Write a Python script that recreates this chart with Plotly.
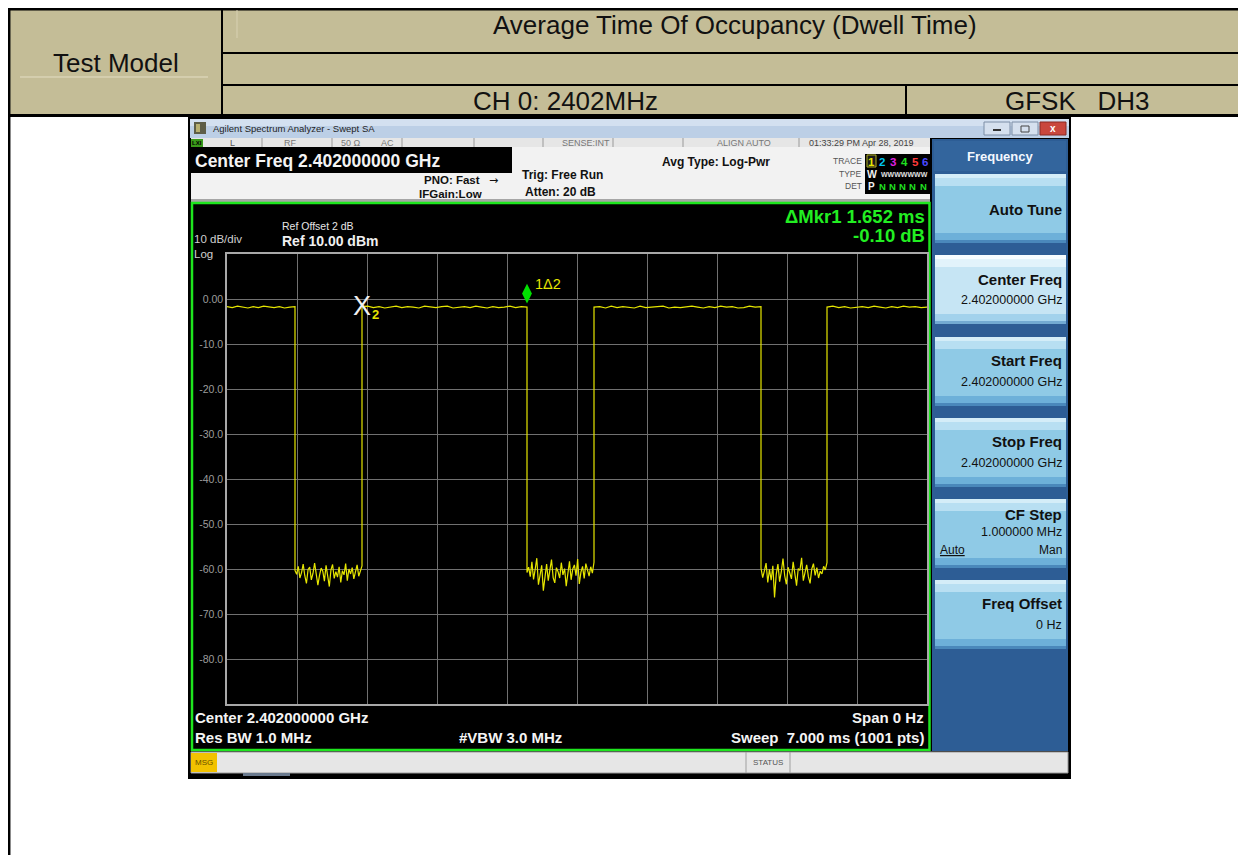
import plotly.graph_objects as go

W, H = 1246, 855
OFF = 8  # the page body margin places the figure 8 px right/down

# ---------------- data ----------------
sweep_range_ms = [0.0, 7.0]
amp_range_dbm = [-90.0, 10.0]
grid_step_ms = 0.7
y_tick_vals = [0, -10, -20, -30, -40, -50, -60, -70, -80]
y_tick_text = ["0.00", "-10.0", "-20.0", "-30.0", "-40.0", "-50.0", "-60.0", "-70.0", "-80.0"]

# burst boundaries (ms); on / off segments alternate
segment_edges_ms = [0.0, 0.68, 1.35, 3.00, 3.67, 5.34, 6.00, 7.00]

on_1 = [-1.7, -1.9, -1.6, -1.8, -2.0, -1.7, -1.9, -1.6, -1.8, -1.9, -1.7, -2.0, -1.8, -1.7]
off_1 = [-60.3, -61.2, -59.4, -62.0, -60.8, -58.9, -61.5, -63.2, -60.1, -59.6, -62.4, -61.0,
         -58.7, -60.9, -63.6, -61.4, -59.8, -60.5, -62.7, -59.2, -61.7, -63.9, -60.2, -59.0,
         -62.1, -60.6, -61.8, -59.5, -63.0, -60.4, -61.3, -58.8, -62.6, -60.0, -61.1, -59.7,
         -62.2, -60.7, -59.1, -61.6, -60.3, -59.3]
on_2 = [-1.7, -1.6, -1.9, -1.7, -2.0, -1.8, -1.6, -1.9, -1.7, -1.8, -2.0, -1.6, -1.8, -1.9,
        -1.7, -1.6, -2.0, -1.8, -1.7, -1.9, -1.6, -1.8, -2.0, -1.7, -1.9, -1.8, -1.6, -1.9,
        -1.7, -1.8]
off_2 = [-60.8, -59.6, -61.7, -58.4, -62.3, -60.1, -57.6, -63.5, -60.9, -59.2, -64.8, -61.0,
         -58.9, -62.6, -60.3, -57.9, -61.9, -63.1, -59.7, -60.6, -62.0, -58.6, -61.3, -59.9,
         -63.8, -60.4, -58.3, -62.4, -60.0, -59.1, -61.5, -57.8, -63.3, -60.7, -59.4, -62.1,
         -58.8, -60.2, -61.6, -59.5, -60.9, -58.5]
on_3 = [-1.8, -1.7, -2.0, -1.6, -1.9, -1.7, -1.8, -2.0, -1.6, -1.9, -1.8, -1.7, -1.6, -2.0,
        -1.8, -1.9, -1.7, -1.6, -1.8, -2.0, -1.7, -1.9, -1.6, -1.8, -1.7, -2.0, -1.9, -1.6,
        -1.8, -1.7]
off_3 = [-59.8, -61.9, -60.4, -58.7, -63.0, -60.1, -62.5, -59.3, -66.3, -61.2, -58.9, -62.8,
         -60.6, -57.7, -61.5, -63.4, -59.6, -60.9, -62.2, -58.4, -61.0, -63.7, -59.9, -60.3,
         -57.5, -62.6, -60.8, -59.1, -61.7, -63.2, -60.0, -58.8, -61.4, -59.7, -62.0, -60.5,
         -61.1, -59.4, -60.2, -58.6]
on_4 = [-1.8, -1.6, -1.9, -1.7, -2.0, -1.8, -1.7, -1.9, -1.6, -1.8, -2.0, -1.7, -1.9, -1.6,
        -1.8, -1.7, -1.9, -1.8]

marker1_ms, marker1_dbm = 3.00, -1.8   # delta marker (1Δ2)
marker2_ms, marker2_dbm = 1.35, -1.7   # reference marker (X 2)

# ---------------- trace ----------------
segments = [on_1, off_1, on_2, off_2, on_3, off_3, on_4]
t_ms, lvl = [], []
for i, seg in enumerate(segments):
    a, b = segment_edges_ms[i], segment_edges_ms[i + 1]
    n = len(seg)
    for k, val in enumerate(seg):
        t_ms.append(a + (b - a) * k / (n - 1))
        lvl.append(val)

fig = go.Figure()
fig.add_trace(go.Scatter(x=t_ms, y=lvl, mode="lines",
                         line=dict(color="#e6e600", width=1.2), hoverinfo="skip"))
fig.add_trace(go.Scatter(x=[marker1_ms], y=[marker1_dbm + 3.0], mode="markers",
                         marker=dict(symbol="diamond-tall", size=14, color="#00e000",
                                     line=dict(width=0)), hoverinfo="skip"))

shapes, anns = [], []
FONT = "Liberation Sans"
FW, FH = W - OFF, H - OFF


def X(x):
    return (x - OFF) / FW


def Y(y):
    return 1 - (y - OFF) / FH


def R(x0, y0, x1, y1, fill, line=None, lw=0):
    shapes.append(dict(type="rect", xref="paper", yref="paper", x0=X(x0), x1=X(x1),
                       y0=Y(y1), y1=Y(y0), fillcolor=fill, layer="below",
                       line=dict(color=line if line else fill, width=lw)))


def L(x0, y0, x1, y1, color, w=1):
    shapes.append(dict(type="line", xref="paper", yref="paper", x0=X(x0), x1=X(x1),
                       y0=Y(y0), y1=Y(y1), layer="below", line=dict(color=color, width=w)))


def T(x, y, text, size=12, color="#111", anchor="left", bold=False, family=FONT):
    anns.append(dict(x=X(x), y=Y(y), xref="paper", yref="paper",
                     text=("<b>%s</b>" % text) if bold else text, showarrow=False,
                     xanchor=anchor, yanchor="middle", borderpad=0, align=anchor,
                     font=dict(family=family, size=size, color=color)))


# ---------------- report table header ----------------
TAN = "#c4bd97"
R(9, 9, W, 116, TAN)
L(8, 9.2, W, 9.2, "#000", 2.5)
L(9.2, 8, 9.2, H, "#000", 2.5)
L(222, 9, 222, 116, "#000", 2)
L(222, 53, W, 53, "#000", 2)
L(222, 85, W, 85, "#000", 2)
L(906, 85, 906, 116, "#000", 2)
L(8, 115.5, W, 115.5, "#000", 3)
L(20, 77, 208, 77, "#e4dec4", 1)
L(237, 10, 237, 38, "#d8d1b2", 1)

T(116, 63, "Test Model", 26, "#111", "center")
T(735, 25, "Average Time Of Occupancy (Dwell Time)", 26, "#111", "center")
T(565, 101, "CH 0: 2402MHz", 26, "#111", "center")
T(1077, 101, "GFSK\u00a0\u00a0\u00a0DH3", 26, "#111", "center")

# ---------------- analyzer screenshot ----------------
R(188, 117, 1071, 779, "#000000")
# window title bar
R(190, 119, 1069, 138, "#bccfe6")
R(190, 119, 1069, 126, "#d3e0f0")
R(194, 122, 206, 134, "#5e5e48")
R(196, 124, 200, 132, "#b8b070")
T(212, 128.5, "Agilent Spectrum Analyzer - Swept SA", 9.5, "#1e1e1e")
R(984, 122, 1010, 135, "#d5e0ee", "#7d8ea6", 1)
R(1012, 122, 1038, 135, "#d5e0ee", "#7d8ea6", 1)
R(1040, 122, 1066, 135, "#c9473d", "#8a2a24", 1)
L(993, 130, 1001, 130, "#333", 2)
R(1021, 126, 1029, 132, "rgba(0,0,0,0)", "#444", 1)
T(1053, 128.5, "x", 10, "#ffffff", "center", True)

# status row
R(191, 138, 930, 147, "#e6e6e6")
R(191, 139, 203, 147, "#3a9a1a")
T(197, 143, "LXI", 6, "#000", "center", True)
for sx in [262, 332, 402, 474, 543, 613, 683, 799]:
    L(sx, 138, sx, 147, "#9a9a9a", 1)
T(232, 143, "L", 9, "#555", "center")
T(290, 143, "RF", 9, "#777", "center")
T(351, 143, "50 Ω", 9, "#777", "center")
T(388, 143, "AC", 9, "#777", "center")
T(611, 143, "SENSE:INT", 9, "#777", "right")
T(744, 143, "ALIGN AUTO", 9, "#777", "center")
T(862, 143, "01:33:29 PM Apr 28, 2019", 9, "#444", "center")

# info area
R(191, 147, 930, 201, "#f2f2f2")
R(191, 199, 930, 202, "#a6a6a6")
R(191, 147, 512, 173, "#000000")
T(194, 161, "Center Freq 2.402000000 GHz", 17.5, "#f4f4f4", "left", True)
T(481, 180, "PNO: Fast", 11.5, "#111", "right", True)
T(494, 180, "→", 11, "#111", "center", family="DejaVu Sans")
T(483, 194, "IFGain:Low", 11.5, "#111", "right", True)
T(521, 175.5, "Trig: Free Run", 12, "#111", "left", True)
T(524, 192, "Atten: 20 dB", 12, "#111", "left", True)
T(661, 162, "Avg Type: Log-Pwr", 12, "#111", "left", True)
T(863, 160.5, "TRACE", 8.5, "#555", "right")
T(863, 174, "TYPE", 8.5, "#555", "right")
T(863, 186, "DET", 8.5, "#555", "right")
R(865, 154, 930, 194, "#000000")
R(867, 155, 876, 167, "#1a1a1a", "#b0b020", 1)
for ch, cx, col in [("1", 871.5, "#e8e800"), ("2", 882, "#00c8f0"), ("3", 893, "#e020e0"),
                    ("4", 904, "#20e020"), ("5", 915, "#ff3a3a"), ("6", 925, "#4a4aff")]:
    T(cx, 161.5, ch, 11.5, col, "center", True)
T(871.5, 174, "W", 10.5, "#f0f0f0", "center", True)
T(904, 174, "WWWWWWW", 7, "#e0e0e0", "center", True)
T(871.5, 186.5, "P", 10, "#f0f0f0", "center", True)
for cx in [882, 892, 902, 912, 923]:
    T(cx, 186.5, "N", 9.5, "#20e020", "center", True)

# graph area
R(192, 203, 929.5, 750, "#000000", "#1ee61e", 2.5)
T(281, 226, "Ref Offset 2 dB", 10.5, "#e6e6e6", "left")
T(281, 240.5, "Ref 10.00 dBm", 14, "#f0f0f0", "left", True)
T(193, 246.5, "10 dB/div<br>Log", 11.5, "#d0d0d0", "left")
T(926, 216.5, "ΔMkr1 1.652 ms", 18.5, "#22ee22", "right", True)
T(926, 235.5, "-0.10 dB", 18.5, "#22ee22", "right", True)
T(194, 717.5, "Center 2.402000000 GHz", 15, "#f4f4f4", "left", True)
T(194, 737, "Res BW 1.0 MHz", 15, "#f4f4f4", "left", True)
T(458, 737, "#VBW 3.0 MHz", 15, "#f4f4f4", "left", True)
T(925, 717.5, "Span 0 Hz", 15, "#f4f4f4", "right", True)
T(925, 737, "Sweep\u00a0\u00a07.000 ms (1001 pts)", 15, "#f4f4f4", "right", True)

# right softkey panel
R(932, 139, 1068, 751, "#2d5d95")
R(934, 141, 1066, 171, "#33659d")
T(1000, 156.5, "Frequency", 13, "#f4f8ff", "center", True)
buttons = [(174, 243, False), (255, 324, True), (337, 406, False), (418, 487, False),
           (499, 568, False), (580, 649, False)]
for top, bot, hi in buttons:
    if hi:
        cols = ["#c6e5f4", "#e2f3fb", "#f6fcff", "#a2d2ec", "#72aad2"]
    else:
        cols = ["#8fcae6", "#b8dff2", "#d4edf8", "#6db0d9", "#4a88bb"]
    R(935, top, 1066, bot, cols[0])
    R(935, top, 1066, top + 12, cols[1])
    R(935, top, 1066, top + 4, cols[2])
    R(935, bot - 10, 1066, bot, cols[3])
    R(935, bot - 3, 1066, bot, cols[4])

T(1063, 209, "Auto Tune", 15, "#111", "right", True)
T(1063, 279, "Center Freq", 15, "#111", "right", True)
T(1063, 300, "2.402000000 GHz", 12.5, "#111", "right")
T(1063, 360, "Start Freq", 15, "#111", "right", True)
T(1063, 382, "2.402000000 GHz", 12.5, "#111", "right")
T(1063, 441, "Stop Freq", 15, "#111", "right", True)
T(1063, 463, "2.402000000 GHz", 12.5, "#111", "right")
T(1063, 515, "CF Step", 15, "#111", "right", True)
T(1063, 532, "1.000000 MHz", 12.5, "#111", "right")
T(939, 550, "<u>Auto</u>", 12, "#111", "left")
T(1063, 550, "Man", 12, "#111", "right")
T(1063, 603, "Freq Offset", 15, "#111", "right", True)
T(1063, 625, "0 Hz", 12.5, "#111", "right")

# bottom status bar
R(191, 752, 1068, 773, "#e6e6e6", "#9a9a9a", 1)
R(191, 753, 217, 772, "#f2c200")
T(204, 762.5, "MSG", 8, "#6a5000", "center")
L(746, 752, 746, 773, "#a0a0a0", 1)
L(790, 752, 790, 773, "#a0a0a0", 1)
T(768, 762.5, "STATUS", 8, "#555", "center")
R(243, 773, 290, 776, "#6a7a8e")

# marker annotations (data coordinates)
anns.append(dict(x=marker2_ms, y=marker2_dbm, xref="x", yref="y", text="X", showarrow=False,
                 xanchor="center", yanchor="middle", yshift=1, borderpad=0,
                 font=dict(family="Liberation Sans Narrow, Liberation Sans", size=27,
                           color="#f0f0f0")))
anns.append(dict(x=marker2_ms, y=marker2_dbm, xref="x", yref="y", text="<b>2</b>",
                 showarrow=False, xanchor="center", yanchor="middle", xshift=13, yshift=-8,
                 borderpad=0, font=dict(family=FONT, size=13, color="#e6e600")))
anns.append(dict(x=marker1_ms, y=marker1_dbm, xref="x", yref="y", text="1Δ2",
                 showarrow=False, xanchor="left", yanchor="middle", xshift=7, yshift=23,
                 borderpad=0, font=dict(family=FONT, size=14.5, color="#e6e600")))

fig.update_layout(
    width=FW, height=FH, margin=dict(l=0, r=0, t=0, b=0),
    paper_bgcolor="#ffffff", plot_bgcolor="#000000", showlegend=False,
    shapes=shapes, annotations=anns,
    xaxis=dict(domain=[X(227), X(927)], range=sweep_range_ms, tick0=0, dtick=grid_step_ms,
               showgrid=True, gridcolor="#707070", gridwidth=1, showticklabels=False,
               zeroline=False, showline=True, linecolor="#a8a8a8", linewidth=1.5,
               mirror=True, ticks="", fixedrange=True),
    yaxis=dict(domain=[Y(704), Y(254)], range=amp_range_dbm, tickvals=y_tick_vals,
               ticktext=y_tick_text, showgrid=True, gridcolor="#707070", gridwidth=1,
               zeroline=False, showline=True, linecolor="#a8a8a8", linewidth=1.5,
               mirror=True, ticks="", ticklabelstandoff=0,
               tickfont=dict(family=FONT, size=10.5, color="#9c9c9c"), fixedrange=True),
)

fig.write_html("out.html", config={"displayModeBar": False})
